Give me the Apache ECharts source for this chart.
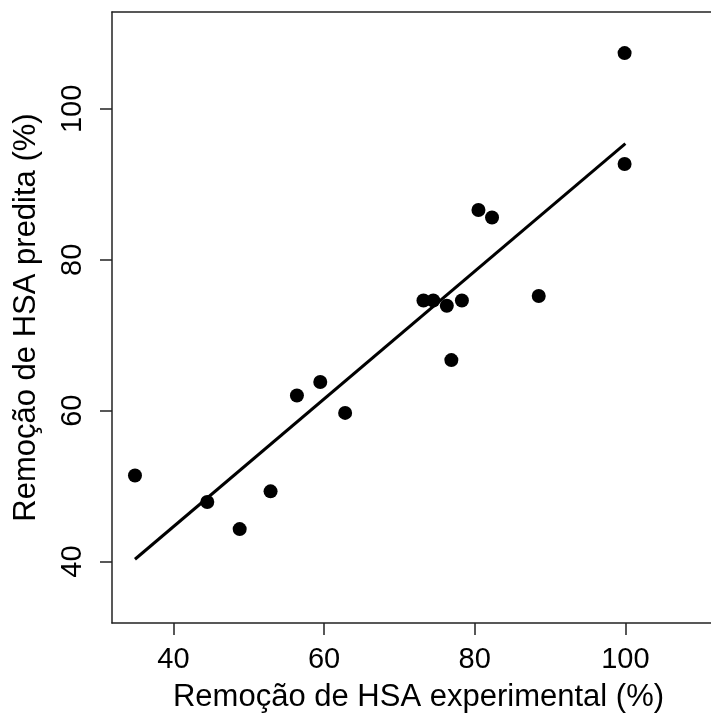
<!DOCTYPE html>
<html>
<head>
<meta charset="utf-8">
<script src="https://cdn.jsdelivr.net/npm/echarts@6/dist/echarts.min.js"></script>
<style>html,body{margin:0;padding:0;background:#fff}#c{width:711px;height:721px}</style>
</head>
<body>
<div id="c"></div>
<script>
const expX  = [34.9, 44.5, 48.8, 52.9, 56.4, 59.5, 62.8, 73.2, 74.5, 76.3, 76.9, 78.3, 80.5, 82.3, 88.5, 99.9, 99.9];
const predY = [51.4, 47.9, 44.3, 49.3, 62.0, 63.8, 59.7, 74.6, 74.6, 73.9, 66.7, 74.6, 86.6, 85.6, 75.2, 107.4, 92.7];
const fitX = [34.9, 100.0];
const fitY = [40.3, 95.4];
const tickValues = [40, 60, 80, 100];
const xTitle = 'Remoção de HSA experimental (%)';
const yTitle = 'Remoção de HSA predita (%)';

const font = "'Liberation Sans', Arial, sans-serif";
const axisLineStyle = {color: '#222', width: 1.5};
const chart = echarts.init(document.getElementById('c'), null, {renderer: 'canvas'});
chart.setOption({
  animation: false,
  backgroundColor: '#fff',
  grid: {left: 112, top: 12, right: 0, bottom: 98, show: false},
  xAxis: [{
    type: 'value', min: 31.85, max: 111.37,
    name: xTitle, nameLocation: 'middle', nameGap: 59,
    nameTextStyle: {fontFamily: font, fontSize: 31, color: '#000', padding: [0, 0, 0, 14]},
    axisLine: {show: true, lineStyle: axisLineStyle},
    axisTick: {show: true, inside: false, length: 12, lineStyle: axisLineStyle, customValues: tickValues},
    axisLabel: {fontFamily: font, fontSize: 29, color: '#000', margin: 22, customValues: tickValues},
    splitLine: {show: false}
  }, {
    type: 'value', min: 31.85, max: 111.37, position: 'top',
    axisLine: {show: true, onZero: false, lineStyle: axisLineStyle},
    axisTick: {show: false}, axisLabel: {show: false}, splitLine: {show: false}
  }],
  yAxis: {
    type: 'value', min: 31.85, max: 112.85,
    name: yTitle, nameLocation: 'middle', nameGap: 70, nameRotate: 90,
    nameTextStyle: {fontFamily: font, fontSize: 31, color: '#000'},
    axisLine: {show: true, lineStyle: axisLineStyle},
    axisTick: {show: true, inside: false, length: 12, lineStyle: axisLineStyle, customValues: tickValues},
    axisLabel: {fontFamily: font, fontSize: 29, color: '#000', margin: 25, rotate: 90, customValues: tickValues},
    splitLine: {show: false}
  },
  series: [
    {
      type: 'line',
      data: fitX.map((x, i) => [x, fitY[i]]),
      showSymbol: false, symbol: 'none',
      lineStyle: {color: '#000', width: 3},
      z: 2
    },
    {
      type: 'scatter',
      data: expX.map((x, i) => [x, predY[i]]),
      symbol: 'circle', symbolSize: 14,
      itemStyle: {color: '#000', opacity: 1},
      z: 3
    }
  ]
});
</script>
</body>
</html>
